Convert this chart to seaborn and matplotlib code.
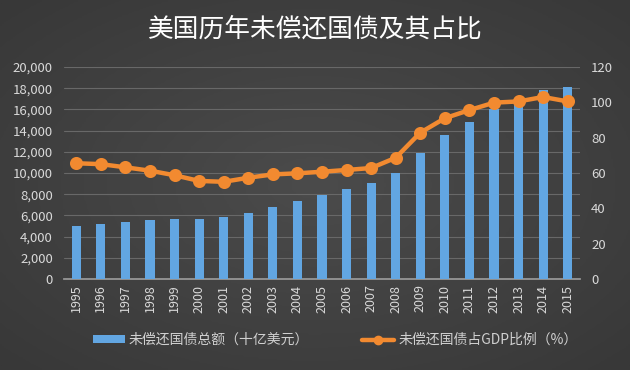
import numpy as np
import pandas as pd
import matplotlib
matplotlib.use("Agg")
import matplotlib.pyplot as plt
import seaborn as sns
from matplotlib.lines import Line2D
from matplotlib.patches import Patch

years = [str(y) for y in range(1995, 2016)]
debt = [4974, 5225, 5413, 5526, 5656, 5674, 5807, 6228, 6783, 7379, 7933,
        8507, 9008, 10025, 11910, 13562, 14790, 16066, 16738, 17824, 18151]
ratio = [65.5, 65.0, 63.2, 61.3, 58.7, 55.5, 55.0, 57.3, 59.2, 59.8, 60.7,
         61.7, 62.8, 68.6, 82.8, 91.0, 95.6, 99.8, 100.5, 103.0, 100.5]
left_ticks = list(range(0, 20001, 2000))
right_ticks = list(range(0, 121, 20))
title = "美国历年未偿还国债及其占比"
bar_label = "未偿还国债总额（十亿美元）"
line_label = "未偿还国债占GDP比例（%）"

df = pd.DataFrame({"year": years, "debt": debt, "ratio": ratio})

sns.set_theme(style="white")
plt.rcParams['font.family'] = ['Noto Sans CJK SC', 'DejaVu Sans']

fig = plt.figure(figsize=(6.3, 3.7), dpi=100)
# background radial gradient
bg = fig.add_axes([0, 0, 1, 1], zorder=-10)
yy, xx = np.mgrid[-1:1:200j, -1:1:300j]
r = np.sqrt(xx**2 + yy**2)
bg.imshow(r, cmap=matplotlib.colors.LinearSegmentedColormap.from_list("g", ["#4b4b4b", "#383838"]),
          aspect="auto", extent=[0, 1, 0, 1], vmin=0, vmax=1.4)
bg.axis("off")

ax = fig.add_axes([0.1016, 0.246, 0.819, 0.573])
ax.patch.set_alpha(0)
sns.barplot(data=df, x="year", y="debt", ax=ax, color="#62a6e2", width=0.37,
            saturation=1, zorder=3, edgecolor="none", linewidth=0)
ax.set_ylim(0, 20000)
ax.set_yticks(left_ticks)
ax.set_yticklabels([f"{v:,}" for v in left_ticks])
ax.yaxis.grid(True, color="#686868", linewidth=0.8, zorder=0)
ax.set_axisbelow(True)
for s in ["top", "right", "left"]:
    ax.spines[s].set_visible(False)
ax.spines["bottom"].set_color("#9a9a9a")
ax.tick_params(axis="x", colors="#d9d9d9", labelsize=9, rotation=90, length=0, pad=4)
ax.tick_params(axis="y", colors="#d9d9d9", labelsize=9.5, length=0, pad=8)
ax.set_xlabel("")
ax.set_ylabel("")
ax.set_xlim(-0.5, len(years) - 0.5)

ax2 = ax.twinx()
sns.pointplot(data=df, x="year", y="ratio", ax=ax2, color="#f28a30",
              markers="o", markersize=7, linewidth=3.2)
ax2.set_ylim(0, 120)
ax2.set_yticks(right_ticks)
ax2.tick_params(axis="y", colors="#d9d9d9", labelsize=9.5, length=0, pad=8)
ax2.set_ylabel("")
ax2.set_xlabel("")
for s in ax2.spines.values():
    s.set_visible(False)
ax2.set_xlim(-0.5, len(years) - 0.5)

fig.text(0.5, 0.92, title, ha="center", va="center", color="white", fontsize=18.5)

handles = [Patch(facecolor="#62a6e2", edgecolor="none"),
           Line2D([0], [0], color="#f28a30", lw=3.2, marker="o", markersize=6)]
fig.legend(handles, [bar_label, line_label], loc="center", bbox_to_anchor=(0.532, 0.081),
           ncol=2, frameon=False, fontsize=10, labelcolor="#d0d0d0",
           handlelength=2.3, handleheight=0.5, columnspacing=3.8, handletextpad=0.3)

fig.savefig("out.png", dpi=100)
